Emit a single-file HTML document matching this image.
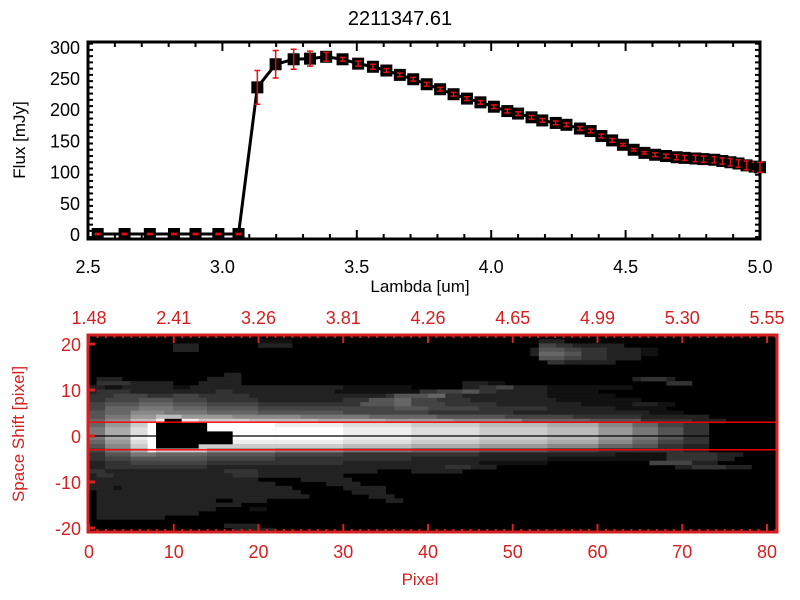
<!DOCTYPE html>
<html><head><meta charset="utf-8"><style>
html,body{margin:0;padding:0;background:#fff;}
svg{display:block;font-family:"Liberation Sans",sans-serif;}
</style></head><body>
<svg id="chart" width="800" height="600" viewBox="0 0 800 600">
<rect width="800" height="600" fill="#fff"/>
<text x="400" y="25" font-size="20" text-anchor="middle">2211347.61</text>
<g id="top"></g>
<g id="bot"></g>
<text x="420" y="292" font-size="17" text-anchor="middle">Lambda [um]</text>
<text transform="translate(25,140) rotate(-90)" font-size="17" text-anchor="middle">Flux [mJy]</text>
<text x="420" y="585" font-size="17" fill="#d42020" text-anchor="middle">Pixel</text>
<text transform="translate(24,434) rotate(-90)" font-size="17" fill="#d42020" text-anchor="middle">Space Shift [pixel]</text>
</svg>
<script>
// ---- spectrum data ----
const lambda = [2.536,2.636,2.73,2.82,2.90,2.985,3.06,3.13,3.198,3.265,3.326,3.386,3.447,3.505,3.56,3.61,3.66,3.71,3.76,3.81,3.86,3.91,3.96,4.01,4.06,4.10,4.15,4.19,4.24,4.28,4.33,4.37,4.41,4.45,4.49,4.53,4.57,4.61,4.65,4.69,4.72,4.76,4.79,4.83,4.86,4.89,4.92,4.95,4.98,5.0];
const flux = [0,0,0,0,0,0,0,235,272,280,281,284,280,273,268,262,255,248,240,232,224,217,211,204,197,193,187,182,178,175,169,165,157,150,143,135,130,127,125,123,122,121,120,119,117,115,113,110,108,107];
const fluxErr = [1,1,1,1,1,1,1,27,22,16,12,7,3,4,4,3,3,3,3,3,3,3,3,3,3,3,3,3,3,3,3,3,3,3,2,2,2,3,3,4,4,5,5,5,5,6,6,7,7,8];
const xTicks = [2.5,3.0,3.5,4.0,4.5,5.0];
const xTickLabels = ["2.5","3.0","3.5","4.0","4.5","5.0"];
const yTicks = [0,50,100,150,200,250,300];
// ---- image data ----
const topTickLabels = ["1.48","2.41","3.26","3.81","4.26","4.65","4.99","5.30","5.55"];
const pixelTicks = [0,10,20,30,40,50,60,70,80];
const shiftTicks = [20,10,0,-10,-20];
const extractionLimits = [3,-3];
const imageRows = [
"0:81","0:20 1:4 0:29 2:3","0:10 2:3 0:7 2:4 0:29 4:2 3:2 2:6","0:10 2:3 0:39 2:1 5:3 4:2 3:3 2:4 1:2",
"0:52 2:1 6:3 5:2 3:3 2:4 1:2","0:53 5:3 4:2 3:3 2:4","0:54 3:2 2:6","0:81","0:81","0:16 2:2",
"0:1 2:3 0:10 2:4 0:46 2:1 3:3 2:1","0:1 3:4 2:5 0:3 2:5 0:26 2:3 1:2 0:19 3:3",
"2:2 1:2 2:6 1:2 2:18 1:8 0:6 2:2 3:2 4:2 2:4 1:10 0:17",
"2:1 3:4 2:10 3:2 2:12 1:10 3:2 4:3 5:2 3:2 2:6 1:6 0:20",
"3:3 4:4 3:3 4:3 3:6 2:12 2:4 3:1 5:4 6:2 3:2 2:10 1:8 0:19",
"3:2 4:4 5:4 4:4 3:6 2:10 3:3 5:3 6:2 4:3 3:4 2:10 1:10 0:16",
"4:2 5:4 6:4 5:4 4:6 3:10 3:2 5:4 6:2 4:4 3:6 2:10 1:6 2:3 1:2 0:13",
"4:2 6:4 7:4 6:4 5:6 4:10 4:6 5:4 4:6 3:8 2:8 1:6 0:13",
"5:2 6:3 8:4 7:5 6:6 5:10 4:10 3:10 2:10 2:6 1:4 0:11",
"5:2 7:3 9:3 b:3 9:6 8:8 7:8 6:8 5:8 4:8 3:8 2:8 0:8",
"6:2 8:3 b:3 e:1 0:2 e:2 c:6 b:8 a:8 9:8 8:8 6:8 5:6 3:6 2:4 0:6",
"6:2 9:3 c:2 f:1 0:6 f:8 e:8 d:8 c:8 b:8 a:6 8:4 6:3 4:3 3:3 0:8",
"7:2 a:3 d:2 f:1 0:6 f:8 f:8 e:8 d:8 c:8 b:6 9:4 7:3 5:3 3:3 0:8",
"7:2 a:3 d:2 f:1 0:9 f:5 f:8 e:8 d:8 c:8 b:6 9:4 7:3 5:3 3:3 0:8",
"7:2 a:3 e:2 f:1 0:9 f:5 f:8 e:8 d:8 c:8 b:6 9:4 7:3 5:3 3:3 0:8",
"6:2 9:3 d:2 f:1 0:9 e:5 e:8 d:8 c:8 b:8 a:6 8:4 6:3 4:3 3:3 0:8",
"5:2 8:3 c:2 f:1 0:5 c:9 c:8 b:8 a:8 9:8 8:6 6:4 5:3 3:3 2:3 0:8",
"4:2 7:3 a:2 e:1 c:6 9:8 8:8 7:8 6:8 5:8 4:6 3:4 3:3 3:3 2:3 0:8",
"3:2 5:3 7:3 6:6 5:8 4:8 3:8 3:8 2:8 2:8 1:6 3:6 2:3 0:4",
"3:2 4:3 5:3 5:6 4:8 3:8 3:8 2:8 2:8 1:8 1:6 3:6 2:2 0:5",
"2:2 3:3 4:3 4:6 3:8 3:8 2:8 2:8 1:8 0:12 4:5 2:3 0:7",
"2:2 3:3 3:3 3:6 2:8 2:10 2:10 3:3 2:3 0:21 2:2 3:4 2:3 0:3",
"3:2 2:14 3:4 2:14 0:4 2:6","2:1 3:2 2:14 3:3 2:10","2:20 0:5 2:6","2:22 0:6 2:4",
"2:3 1:1 2:20 0:6 2:5","0:1 2:24 0:6 2:4","0:1 2:25 0:7 2:3","0:1 2:14 0:2 2:4 0:14 2:2",
"0:1 2:17","0:1 2:14 0:4 1:2","0:1 2:12","0:1 2:8","0:81","0:16 2:4","0:17 2:5"
];
const blackBlob = [[20,9,10],[21,8,13],[22,8,13],[23,8,16],[24,8,16],[25,8,16],[26,8,12]];

const NS="http://www.w3.org/2000/svg";
function mk(parent,tag,attrs){const e=document.createElementNS(NS,tag);for(const k in attrs)e.setAttribute(k,attrs[k]);parent.appendChild(e);return e;}

// ---- top plot ----
const T=document.getElementById('top');
const L=88,R=760,TP=42,BT=239;
const xs=v=>L+(v-2.5)*(R-L)/2.5;
const ys=v=>234-v*0.624;
for(let i=0;i<=25;i++){const v=2.5+i*0.1;const x=xs(v);const maj=i%5===0;const len=maj?9:5;
  const t1=mk(T,'line',{x1:x,x2:x,y1:BT,y2:BT-len,stroke:'#000','stroke-width':2});
  
  const t2=mk(T,'line',{x1:x,x2:x,y1:TP,y2:TP+len,stroke:'#000','stroke-width':2});
  }
xTicks.forEach((v,i)=>{const t=mk(T,'text',{x:xs(v),y:273,'font-size':18,'text-anchor':'middle'});t.textContent=xTickLabels[i];
  });
for(let v=-5;v<=305;v+=10){const y=ys(v);if(y<TP||y>BT)continue;const maj=v%50===0;const len=maj?10:5;
  const t1=mk(T,'line',{x1:L,x2:L+len,y1:y,y2:y,stroke:'#000','stroke-width':2});
  
  const t2=mk(T,'line',{x1:R,x2:R-len,y1:y,y2:y,stroke:'#000','stroke-width':2});
  }
yTicks.forEach(v=>{const t=mk(T,'text',{x:80,y:ys(v)+7,'font-size':18,'text-anchor':'end'});t.textContent=String(v);
  });
const fr=mk(T,'rect',{x:L,y:TP,width:R-L,height:BT-TP,fill:'none',stroke:'#000','stroke-width':3});

const pl=mk(T,'polyline',{points:lambda.map((v,i)=>xs(v)+','+ys(flux[i])).join(' '),fill:'none',stroke:'#000','stroke-width':3});

lambda.forEach((v,i)=>{const x=xs(v),y=ys(flux[i]);
  const m=mk(T,'rect',{x:x-6,y:y-6,width:12,height:12,fill:'#000'});
  
  const e=fluxErr[i]*0.624;
  const g=mk(T,'path',{d:`M${x},${y-e}V${y+e}M${x-3},${y-e}H${x+3}M${x-3},${y+e}H${x+3}`,stroke:'#e01010','stroke-width':1.5,fill:'none'});
  });

// ---- bottom image ----
const B=document.getElementById('bot');
const IL=88,IR=777,IT=335,IB=532;
const px=v=>89+v*(767-89)/80;
const sy=v=>436-v*4.6;
const cw=(IR-IL)/81,rh=(IB-IT)/imageRows.length;
mk(B,'rect',{x:IL,y:IT,width:IR-IL,height:IB-IT,fill:'#000'});
imageRows.forEach((row,r)=>{let c=0;row.split(' ').forEach(tok=>{const [h,n]=tok.split(':');const cnt=+n;const v=parseInt(h,16);
  if(v>0){const g=Math.round(v*17);
    const cell=mk(B,'rect',{x:IL+c*cw,y:IT+r*rh,width:cnt*cw+0.3,height:rh+0.3,fill:`rgb(${g},${g},${g})`});
    }
  c+=cnt;});});
blackBlob.forEach(b=>{const cell=mk(B,'rect',{x:IL+b[1]*cw,y:IT+b[0]*rh,width:(b[2]-b[1]+1)*cw,height:rh+0.3,fill:'#000'});
  });
extractionLimits.forEach(v=>{const l=mk(B,'line',{x1:IL,x2:IR,y1:sy(v),y2:sy(v),stroke:'#f00','stroke-width':1.3});
  });
const cl=mk(B,'line',{x1:IL,x2:IR,y1:sy(0),y2:sy(0),stroke:'#000','stroke-width':1.2});

const RED='#d42020';
for(let i=0;i<=81;i++){const x=px(i);const maj=i%10===0;const len=maj?8:3;
  const a=mk(B,'line',{x1:x,x2:x,y1:IB,y2:IB-len,stroke:RED,'stroke-width':2});
  
  const b=mk(B,'line',{x1:x,x2:x,y1:IT,y2:IT+len,stroke:RED,'stroke-width':2});
  }
shiftTicks.forEach(v=>{const l=mk(B,'line',{x1:IL,x2:IL+7,y1:sy(v),y2:sy(v),stroke:RED,'stroke-width':3});
  
  const t=mk(B,'text',{x:81,y:sy(v)+7,'font-size':18,'text-anchor':'end',fill:RED});t.textContent=String(v);
  });
pixelTicks.forEach((v,i)=>{const t=mk(B,'text',{x:px(v),y:558,'font-size':18,'text-anchor':'middle',fill:RED});t.textContent=String(v);
  
  const u=mk(B,'text',{x:px(v),y:324,'font-size':18,'text-anchor':'middle',fill:RED});u.textContent=topTickLabels[i];
  });
const bf=mk(B,'rect',{x:IL,y:IT,width:IR-IL,height:IB-IT,fill:'none',stroke:RED,'stroke-width':3});

</script>
</body></html>
